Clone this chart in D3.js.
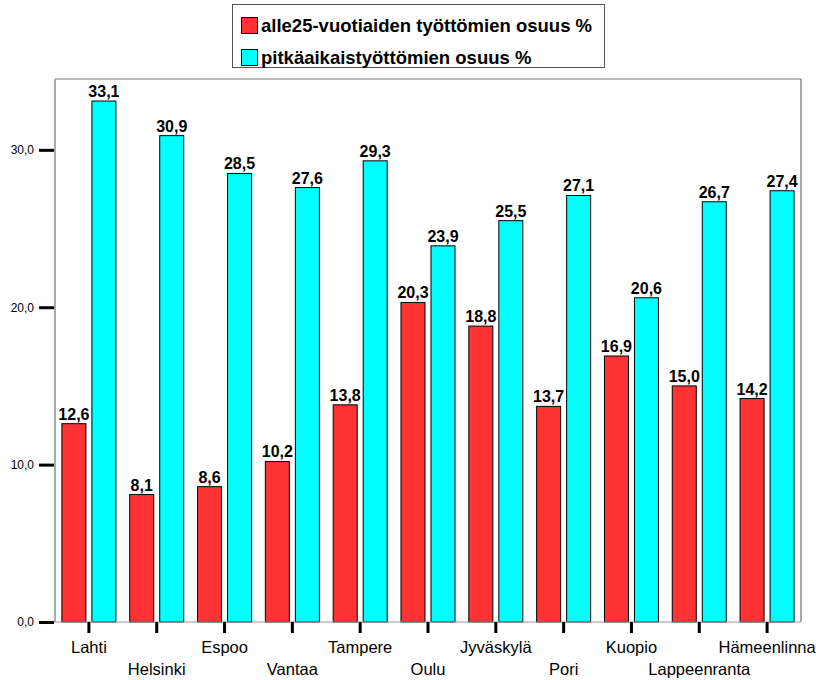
<!DOCTYPE html>
<html>
<head>
<meta charset="utf-8">
<script src="https://cdn.jsdelivr.net/npm/d3@7"></script>
<style>
  body { margin: 0; background: #fff; }
  svg { font-family: "Liberation Sans", Arial, sans-serif; }
</style>
</head>
<body>
<svg width="816" height="680"></svg>
<script>
const cities = ["Lahti", "Helsinki", "Espoo", "Vantaa", "Tampere", "Oulu",
                "Jyväskylä", "Pori", "Kuopio", "Lappeenranta", "Hämeenlinna"];
const seriesNames = ["alle25-vuotiaiden työttömien osuus %", "pitkäaikaistyöttömien osuus %"];
const youngShare = [12.6, 8.1, 8.6, 10.2, 13.8, 20.3, 18.8, 13.7, 16.9, 15.0, 14.2];
const longTermShare = [33.1, 30.9, 28.5, 27.6, 29.3, 23.9, 25.5, 27.1, 20.6, 26.7, 27.4];
const yTicks = [0, 10, 20, 30];
const colors = ["#ff3333", "#00ffff"];

const svg = d3.select("svg");
const plotL = 55, plotR = 801, plotT = 79, plotB = 622;
const fmt = v => d3.format(".1f")(v).replace(".", ",");

const x = d3.scaleBand().domain(cities).range([plotL, plotR]);
const xs = d3.scaleBand().domain(seriesNames).range([0, x.bandwidth()])
    .paddingInner(0.2).paddingOuter(0.23);
const y = d3.scaleLinear().domain([0, 34.5]).range([plotB, plotT]);

// frame
svg.append("line").attr("x1", plotL).attr("x2", plotR).attr("y1", plotT).attr("y2", plotT)
    .attr("stroke", "#777");
svg.append("line").attr("x1", plotR).attr("x2", plotR).attr("y1", plotT).attr("y2", plotB)
    .attr("stroke", "#555");
svg.append("line").attr("x1", plotL).attr("x2", plotL).attr("y1", plotT).attr("y2", plotB)
    .attr("stroke", "#aaa").attr("stroke-width", 2);

const rows = cities.map((c, i) => ({ city: c, vals: [youngShare[i], longTermShare[i]] }));

const groups = svg.selectAll("g.grp").data(rows).enter().append("g")
    .attr("class", "grp")
    .attr("transform", d => "translate(" + x(d.city) + ",0)");

groups.selectAll("rect").data(d => d.vals.map((v, k) => ({ v: v, s: seriesNames[k], k: k })))
    .enter().append("rect")
    .attr("x", d => xs(d.s))
    .attr("width", xs.bandwidth())
    .attr("y", d => y(d.v))
    .attr("height", d => y(0) - y(d.v))
    .attr("fill", d => colors[d.k])
    .attr("stroke", "#000")
    .attr("stroke-width", 1);

groups.selectAll("text.val").data(d => d.vals.map((v, k) => ({ v: v, s: seriesNames[k] })))
    .enter().append("text")
    .attr("class", "val")
    .attr("x", d => xs(d.s) + xs.bandwidth() / 2)
    .attr("y", d => y(d.v) - 4)
    .attr("text-anchor", "middle")
    .attr("font-size", 16)
    .attr("font-weight", "bold")
    .text(d => fmt(d.v));

// baseline
svg.append("line").attr("x1", plotL).attr("x2", plotR).attr("y1", plotB).attr("y2", plotB)
    .attr("stroke", "#999");

// y axis
const yAxis = svg.append("g").attr("transform", "translate(" + (plotL - 1) + ",0)")
    .call(d3.axisLeft(y).tickValues(yTicks).tickSize(15).tickPadding(5).tickFormat(fmt));
yAxis.select(".domain").remove();
yAxis.selectAll(".tick line").attr("stroke", "#000").attr("stroke-width", 3);
yAxis.selectAll(".tick text").attr("font-size", 12).attr("font-family", "Liberation Sans, Arial, sans-serif")
    .attr("fill", "#000");

// x axis
const xAxis = svg.append("g").attr("transform", "translate(0," + plotB + ")")
    .call(d3.axisBottom(x).tickSize(11).tickFormat(""));
xAxis.select(".domain").remove();
xAxis.selectAll(".tick line").attr("stroke", "#000").attr("stroke-width", 3);

svg.selectAll("text.cat").data(cities).enter().append("text")
    .attr("class", "cat")
    .attr("x", d => x(d) + x.bandwidth() / 2)
    .attr("y", (d, i) => i % 2 === 0 ? 653 : 675)
    .attr("text-anchor", "middle")
    .attr("font-size", 16.5)
    .text(d => d);

// legend
const leg = svg.append("g");
leg.append("rect").attr("x", 232.5).attr("y", 4.5).attr("width", 372).attr("height", 63)
    .attr("fill", "#fff").attr("stroke", "#555");
seriesNames.forEach((s, i) => {
  leg.append("rect").attr("x", 241.5).attr("y", 17.5 + i * 32).attr("width", 16).attr("height", 16)
      .attr("fill", colors[i]).attr("stroke", "#000");
  leg.append("text").attr("x", 261).attr("y", 32 + i * 32)
      .attr("font-size", 18.5).attr("font-weight", "bold").text(s);
});
</script>
</body>
</html>
